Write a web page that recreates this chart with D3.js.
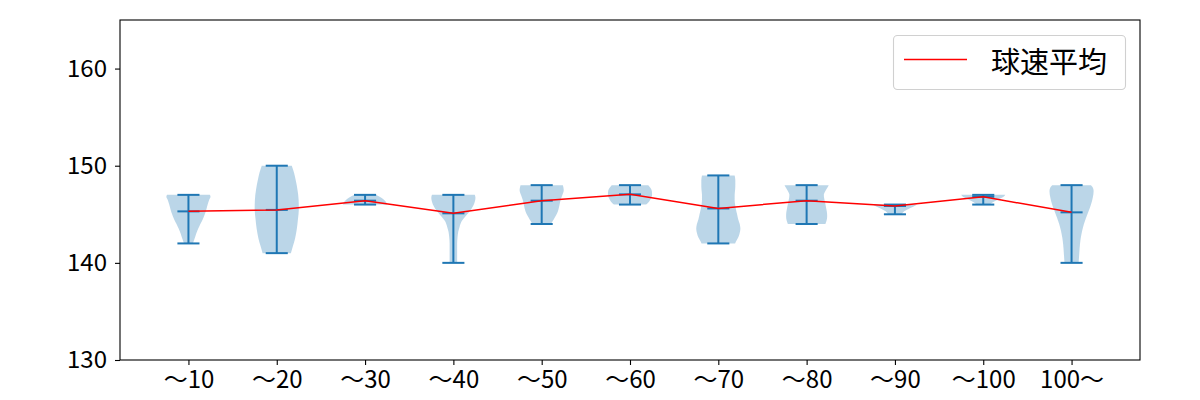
<!DOCTYPE html>
<html>
<head>
<meta charset="utf-8">
<script src="https://cdn.jsdelivr.net/npm/d3@7"></script>
<style>
  html, body { margin: 0; padding: 0; background: #fff; }
  svg { display: block; font-family: "Noto Sans CJK JP", "Noto Sans", sans-serif; }
</style>
</head>
<body>
<svg id="chart" width="1200" height="400"></svg>
<script>
// ---- data ----
const categories = ["〜10", "〜20", "〜30", "〜40", "〜50", "〜60", "〜70", "〜80", "〜90", "〜100", "100〜"];
const positions = [1, 2, 3, 4, 5, 6, 7, 8, 9, 10, 11];
const minSpeeds = [142, 141, 146, 140, 144, 146, 142, 144, 145, 146, 140];
const maxSpeeds = [147, 150, 147, 147, 148, 148, 149, 148, 146, 147, 148];
const meanSpeeds = [145.3, 145.45, 146.4, 145.1, 146.4, 147.05, 145.6, 146.4, 145.85, 146.8, 145.2];
// violin outline: [speed, relative density (0..1)]
const violinProfiles = [
  [[142,0.2],[142.5,0.28],[143,0.35],[143.5,0.44],[144,0.54],[144.5,0.65],[145,0.74],[145.5,0.81],[146,0.87],[146.5,0.94],[146.8,1.0],[147,0.97]],
  [[141,0.64],[141.7,0.73],[142.5,0.83],[143.5,0.91],[144.5,0.96],[145.5,1.0],[146.5,0.99],[147.5,0.94],[148.5,0.86],[149.3,0.78],[150,0.68]],
  [[146,1.0],[146.2,0.97],[146.4,0.9],[146.6,0.8],[146.8,0.66],[147,0.48]],
  [[140,0.17],[141,0.17],[142,0.17],[142.7,0.19],[143.2,0.22],[143.7,0.28],[144.3,0.38],[144.8,0.55],[145.3,0.74],[145.8,0.88],[146.3,0.97],[146.7,1.0],[147,0.97]],
  [[144,0.42],[144.3,0.5],[144.7,0.6],[145.1,0.7],[145.6,0.77],[146.1,0.82],[146.5,0.86],[147,0.94],[147.5,1.0],[148,0.96]],
  [[146,0.73],[146.3,0.86],[146.6,0.94],[147,1.0],[147.4,0.99],[147.7,0.93],[148,0.83]],
  [[142,0.76],[142.2,0.8],[142.6,0.9],[143,0.96],[143.5,1.0],[144,0.97],[144.5,0.9],[145,0.85],[145.5,0.8],[146,0.76],[146.5,0.74],[147,0.74],[147.5,0.76],[148,0.77],[148.5,0.77],[149,0.74]],
  [[144,0.85],[144.4,0.91],[144.8,0.93],[145.2,0.92],[145.7,0.88],[146.2,0.84],[146.7,0.79],[147,0.78],[147.4,0.85],[147.7,0.93],[148,1.0]],
  [[145,0.3],[145.3,0.42],[145.6,0.65],[145.8,0.85],[146,1.0]],
  [[146,0.28],[146.2,0.4],[146.4,0.56],[146.6,0.75],[146.8,0.92],[147,1.0]],
  [[140,0.32],[141,0.35],[141.9,0.38],[142.6,0.42],[143.3,0.48],[144,0.56],[144.6,0.65],[145.3,0.77],[146,0.88],[146.7,0.96],[147.4,1.0],[147.8,0.95],[148,0.88]]
];
const yTicks = [130, 140, 150, 160];
const legendLabel = "球速平均";

// ---- layout ----
(function () {
const svg = d3.select("#chart");
const mLeft = 120, mRight = 1140, mTop = 20, mBottom = 360;
const x = d3.scaleLinear().domain([0.225, 11.775]).range([mLeft, mRight]);
const y = d3.scaleLinear().domain([130, 165]).range([mBottom, mTop]);
const blue = "#1f77b4";
const halfW = 0.25;   // violin half-width in position units
const capW = 0.125;   // cap half-width

// violins
const area = d3.area()
  .curve(d3.curveMonotoneY)
  .y(d => y(d.v));
positions.forEach((p, i) => {
  const pts = violinProfiles[i].map(d => ({v: d[0], w: d[1]}));
  area.x0(d => x(p - halfW * d.w)).x1(d => x(p + halfW * d.w));
  svg.append("path")
    .attr("d", area(pts))
    .attr("fill", blue)
    .attr("fill-opacity", 0.3)
    .attr("stroke", "none");
});

// bars: vertical range, caps and mean lines
const bars = svg.append("g").attr("stroke", blue).attr("stroke-width", 2);
positions.forEach((p, i) => {
  bars.append("line").attr("x1", x(p)).attr("x2", x(p)).attr("y1", y(minSpeeds[i])).attr("y2", y(maxSpeeds[i]));
  [minSpeeds[i], maxSpeeds[i], meanSpeeds[i]].forEach(v => {
    bars.append("line").attr("x1", x(p - capW)).attr("x2", x(p + capW)).attr("y1", y(v)).attr("y2", y(v));
  });
});

// mean line
svg.append("path")
  .datum(positions.map((p, i) => [p, meanSpeeds[i]]))
  .attr("d", d3.line().x(d => x(d[0])).y(d => y(d[1])))
  .attr("fill", "none")
  .attr("stroke", "red")
  .attr("stroke-width", 1.5);

// axes
const yAxis = d3.axisLeft(y).tickValues(yTicks).tickSize(5).tickPadding(8).tickFormat(d3.format("d"));
const gy = svg.append("g").attr("transform", `translate(${mLeft},0)`).call(yAxis);
const xAxis = d3.axisBottom(x).tickValues(positions).tickSize(5).tickPadding(6).tickFormat((d, i) => categories[i]);
const gx = svg.append("g").attr("transform", `translate(0,${mBottom})`).call(xAxis);
[gx, gy].forEach(g => {
  g.select(".domain").remove();
  g.selectAll(".tick line").attr("stroke", "#000").attr("stroke-width", 1.1);
  g.selectAll(".tick text").attr("fill", "#000").style("font-size", "24px")
    .style("font-family", '"Noto Sans CJK JP", sans-serif');
});

// frame
svg.append("rect")
  .attr("x", mLeft).attr("y", mTop)
  .attr("width", mRight - mLeft).attr("height", mBottom - mTop)
  .attr("fill", "none").attr("stroke", "#000").attr("stroke-width", 1.1);

// legend
const lg = svg.append("g");
lg.append("rect").attr("x", 893.5).attr("y", 35.5).attr("width", 232).attr("height", 54).attr("rx", 4)
  .attr("fill", "#fff").attr("fill-opacity", 0.8).attr("stroke", "#d0d0d0").attr("stroke-width", 1.1);
lg.append("line").attr("x1", 904).attr("x2", 967).attr("y1", 59.5).attr("y2", 59.5)
  .attr("stroke", "red").attr("stroke-width", 1.5);
lg.append("text").attr("x", 991).attr("y", 59.5).attr("dominant-baseline", "central")
  .style("font-size", "29px").attr("fill", "#000").text(legendLabel);
})();
</script>
</body>
</html>
